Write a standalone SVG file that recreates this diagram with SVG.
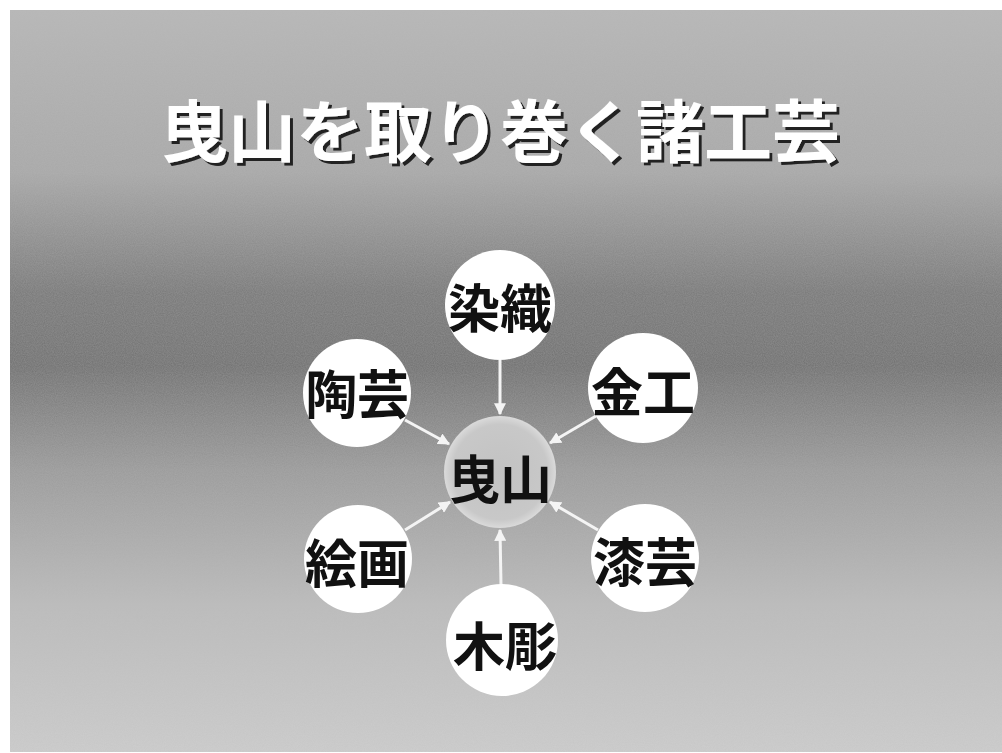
<svg xmlns="http://www.w3.org/2000/svg" width="1002" height="753" viewBox="0 0 1002 753">
  <defs>
    <linearGradient id="bg" x1="0" y1="0" x2="0" y2="1">
      <stop offset="0" stop-color="#b7b7b7"/>
      <stop offset="0.22" stop-color="#a8a8a8"/>
      <stop offset="0.38" stop-color="#787878"/>
      <stop offset="0.48" stop-color="#707070"/>
      <stop offset="0.62" stop-color="#9a9a9a"/>
      <stop offset="0.8" stop-color="#bcbcbc"/>
      <stop offset="1" stop-color="#cecece"/>
    </linearGradient>
    <radialGradient id="hub" cx="0.5" cy="0.5" r="0.5">
      <stop offset="0" stop-color="#c2c2c2"/>
      <stop offset="0.85" stop-color="#c8c8c8"/>
      <stop offset="1" stop-color="#dadada"/>
    </radialGradient>
    <filter id="noise" x="0" y="0" width="100%" height="100%">
      <feTurbulence type="fractalNoise" baseFrequency="0.9" numOctaves="2" seed="3" result="n"/>
      <feColorMatrix type="matrix" values="0 0 0 0 0.5  0 0 0 0 0.5  0 0 0 0 0.5  0 0 0 0.35 0" />
      <feComposite in2="SourceGraphic" operator="in"/>
    </filter>
    <filter id="shadow" x="-5%" y="-20%" width="110%" height="140%">
      <feDropShadow dx="3" dy="3" stdDeviation="0.6" flood-color="#222222" flood-opacity="1"/>
    </filter>
    <marker id="arr" viewBox="0 0 10 10" refX="9" refY="5" markerWidth="4" markerHeight="4" orient="auto" markerUnits="strokeWidth">
      <path d="M0,0 L10,5 L0,10 Z" fill="#f4f4f4"/>
    </marker>
  </defs>
  <style>
    .node { fill: #ffffff; }
    .lbl { font-family: "Noto Sans CJK JP", "Noto Sans CJK SC", sans-serif; font-weight: bold; font-size: 52px; fill: #111111; text-anchor: middle; }
    .title { font-family: "Noto Sans CJK JP", "Noto Sans CJK SC", sans-serif; font-weight: bold; font-size: 68px; text-anchor: middle; fill: #ffffff; }
    .conn line { stroke: #f4f4f4; stroke-width: 3; marker-end: url(#arr); }
  </style>
  <rect x="0" y="0" width="1002" height="753" fill="#ffffff"/>
  <rect x="10" y="10" width="992" height="742" fill="url(#bg)"/>
  <rect x="10" y="10" width="992" height="742" fill="#888" filter="url(#noise)"/>

  <g id="title">
    <text class="title" x="500" y="157" filter="url(#shadow)">曳山を取り巻く諸工芸</text>
  </g>

  <g id="connectors" class="conn">
    <line x1="500" y1="360" x2="500" y2="414"/>
    <line x1="405" y1="420" x2="449" y2="444"/>
    <line x1="596" y1="416" x2="550" y2="443"/>
    <line x1="405" y1="530" x2="450" y2="502"/>
    <line x1="598" y1="530" x2="550" y2="502"/>
    <line x1="501" y1="585" x2="500" y2="530"/>
  </g>

  <g id="node-hikiyama">
    <circle cx="500" cy="472" r="56" fill="url(#hub)"/>
    <text class="lbl" x="500" y="499">曳山</text>
  </g>
  <g id="node-senshoku">
    <circle class="node" cx="500" cy="305" r="55"/>
    <text class="lbl" x="500" y="328">染織</text>
  </g>
  <g id="node-tougei">
    <circle class="node" cx="357" cy="393" r="54"/>
    <text class="lbl" x="357" y="414">陶芸</text>
  </g>
  <g id="node-kinkou">
    <circle class="node" cx="643" cy="388" r="55"/>
    <text class="lbl" x="643" y="412">金工</text>
  </g>
  <g id="node-kaiga">
    <circle class="node" cx="358" cy="559" r="54"/>
    <text class="lbl" x="357" y="583">絵画</text>
  </g>
  <g id="node-shitsugei">
    <circle class="node" cx="645" cy="558" r="54"/>
    <text class="lbl" x="645" y="582">漆芸</text>
  </g>
  <g id="node-mokuchou">
    <circle class="node" cx="502" cy="640" r="56"/>
    <text class="lbl" x="505" y="666">木彫</text>
  </g>
</svg>
